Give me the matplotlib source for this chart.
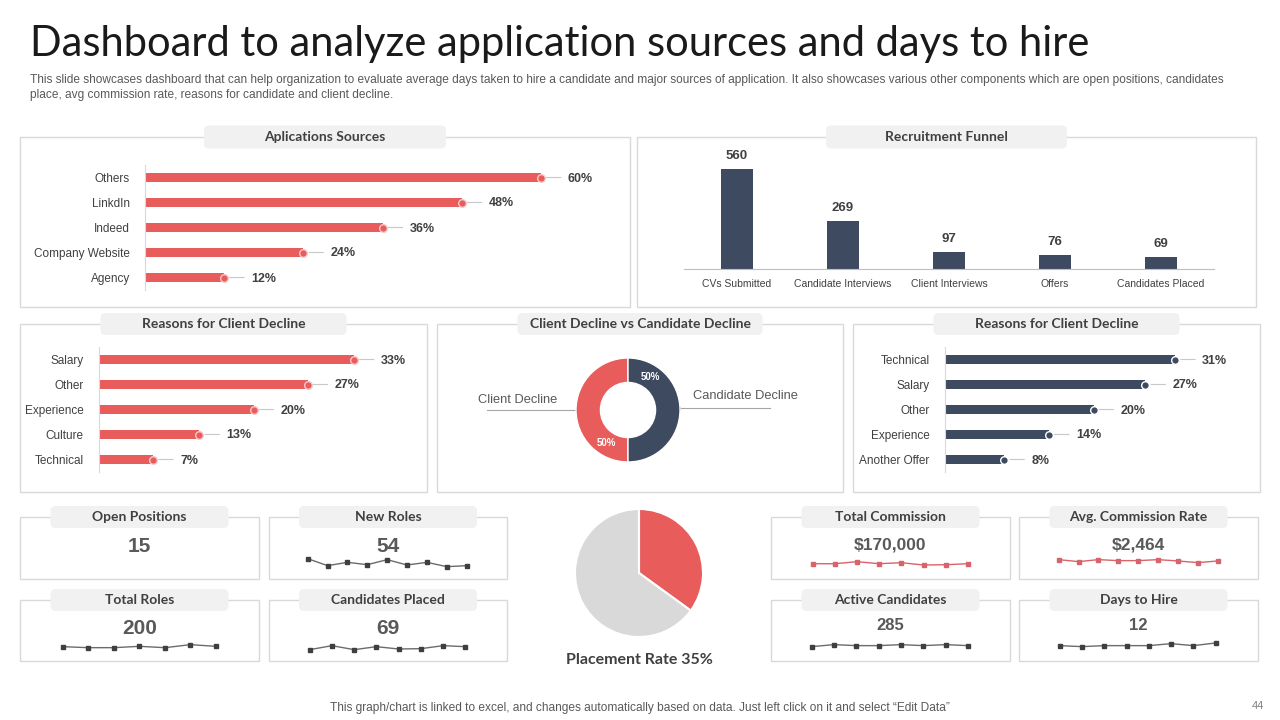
import numpy as np
import matplotlib
matplotlib.use("Agg")
import matplotlib.pyplot as plt
from matplotlib.patches import Rectangle, FancyBboxPatch

W, H = 1280, 720
RED = "#e85c5c"
NAVY = "#3d4a5f"
GREY_TXT = "#404040"
BORDER = "#d9d9d9"
PILL = "#f1f1f1"
SPARK_RED = "#d9636a"
SPARK_DARK = "#3f3f3f"

# ---- data ----
source_labels = ["Others", "LinkdIn", "Indeed", "Company Website", "Agency"]
source_values = [60, 48, 36, 24, 12]

funnel_labels = ["CVs Submitted", "Candidate Interviews", "Client Interviews", "Offers", "Candidates Placed"]
funnel_values = [560, 269, 97, 76, 69]

client_reasons = ["Salary", "Other", "Experience", "Culture", "Technical"]
client_values = [33, 27, 20, 13, 7]

cand_reasons = ["Technical", "Salary", "Other", "Experience", "Another Offer"]
cand_values = [31, 27, 20, 14, 8]

decline_labels = ["Client Decline", "Candidate Decline"]
decline_values = [50, 50]

placement_rate = 35

kpi_titles = ["Open Positions", "New Roles", "Total Roles", "Candidates Placed",
              "Total Commission", "Avg. Commission Rate", "Active Candidates", "Days to Hire"]
kpi_values = ["15", "54", "200", "69", "$170,000", "$2,464", "285", "12"]

spark_new_roles = [34, 13, 23, 16, 31, 15, 23, 10, 13]
spark_total_roles = [10, 7, 7, 11, 7, 16, 11]
spark_cand_placed = [1, 13, 1, 10, 3, 4, 13, 10]
spark_commission = [9, 9, 15, 9, 12, 5, 6, 9]
spark_comm_rate = [11, 5, 11, 8, 8, 11, 7, 2, 7]
spark_active = [5, 11, 8, 8, 11, 8, 11, 8]
spark_days = [8, 5, 8, 8, 8, 14, 8, 16]
kpi_sparks = [None, spark_new_roles, spark_total_roles, spark_cand_placed,
              spark_commission, spark_comm_rate, spark_active, spark_days]

plt.rcParams['font.family'] = ['Liberation Sans', 'DejaVu Sans']

fig = plt.figure(figsize=(12.8, 7.2), dpi=100)
fig.patch.set_facecolor("white")

bg = fig.add_axes([0, 0, 1, 1])
bg.set_xlim(0, W)
bg.set_ylim(H, 0)
bg.axis("off")


def add_ax(x0, y0, x1, y1):
    return fig.add_axes([x0 / W, 1 - y1 / H, (x1 - x0) / W, (y1 - y0) / H])


def panel(x0, y0, x1, y1, title, pill_w, pill_h=23, fs=10):
    bg.add_patch(Rectangle((x0, y0), x1 - x0, y1 - y0, fill=False, ec=BORDER, lw=1))
    cx = (x0 + x1) / 2
    bg.add_patch(FancyBboxPatch((cx - pill_w / 2, y0 - pill_h / 2), pill_w, pill_h,
                                boxstyle="round,pad=0,rounding_size=5", fc=PILL, ec="none"))
    bg.text(cx, y0, title, ha="center", va="center", fontsize=fs, fontweight="bold",
            color=GREY_TXT, family=["Lato", "DejaVu Sans"])


def hbar(rect, labels, values, color, xmax, mec):
    ax = add_ax(*rect)
    n = len(values)
    y = np.arange(n)[::-1]
    ax.barh(y, values, height=0.33, color=color)
    ax.plot(values, y, "o", ms=5.5, mfc=color, mec=mec, mew=1, zorder=3, clip_on=False)
    for v, yy in zip(values, y):
        ax.annotate("", xy=(v, yy), xytext=(20, 0), textcoords="offset pixels",
                    arrowprops=dict(arrowstyle="-", color="#c8c8c8", lw=0.8, shrinkA=0, shrinkB=4))
        ax.annotate(f"{v}%", xy=(v, yy), xytext=(27, -1), textcoords="offset pixels",
                    va="center", ha="left", fontsize=9, fontweight="bold", color=GREY_TXT)
    ax.set_xlim(0, xmax)
    ax.set_ylim(-0.5, n - 0.5)
    ax.set_yticks(y, labels)
    ax.set_xticks([])
    ax.tick_params(axis="y", length=0, pad=11, labelsize=8.5, labelcolor=GREY_TXT)
    for s in ["top", "right", "bottom"]:
        ax.spines[s].set_visible(False)
    ax.spines["left"].set_color(BORDER)
    ax.patch.set_alpha(0)
    return ax


# ---- title ----
bg.text(30, 44, "Dashboard to analyze application sources and days to hire", fontsize=30,
        va="center", ha="left", color="#1a1a1a", family=["Lato", "DejaVu Sans"])
bg.text(30, 80, "This slide showcases dashboard that can help organization to evaluate average days taken to hire a candidate and major sources of application. It also showcases various other components which are open positions, candidates",
        fontsize=8.6, va="center", ha="left", color="#595959")
bg.text(30, 95, "place, avg commission rate, reasons for candidate and client decline.",
        fontsize=8.6, va="center", ha="left", color="#595959")

# ---- top row ----
panel(20, 137, 630, 307, "Aplications Sources", 242)
hbar((145, 165, 607, 290), source_labels, source_values, RED, 70, "#f6caca")

panel(637, 137, 1256, 307, "Recruitment Funnel", 241)
axf = add_ax(684, 150, 1214, 269)
xf = np.arange(len(funnel_values))
axf.bar(xf, funnel_values, width=0.31, color=NAVY)
for xx, v in zip(xf, funnel_values):
    axf.annotate(str(v), xy=(xx, v), xytext=(0, 7), textcoords="offset pixels",
                 ha="center", va="bottom", fontsize=9.5, fontweight="bold", color=GREY_TXT)
axf.set_xlim(-0.5, len(funnel_values) - 0.5)
axf.set_ylim(0, 666)
axf.set_xticks(xf, funnel_labels)
axf.set_yticks([])
axf.tick_params(axis="x", length=0, pad=7, labelsize=7.5, labelcolor=GREY_TXT)
for s in ["top", "right", "left"]:
    axf.spines[s].set_visible(False)
axf.spines["bottom"].set_color("#bfbfbf")
axf.patch.set_alpha(0)

# ---- middle row ----
panel(20, 324, 427, 492, "Reasons for Client Decline", 246, 22)
hbar((99, 347, 408, 472), client_reasons, client_values, RED, 40, "#f6caca")

panel(437, 324, 843, 492, "Client Decline vs Candidate Decline", 245, 22)
axd = add_ax(576, 358, 680, 462)
wedges, _ = axd.pie(decline_values, colors=[RED, NAVY], startangle=90, counterclock=True,
                    radius=1, wedgeprops=dict(width=0.47, edgecolor="white", lw=1))
for w, v in zip(wedges, decline_values):
    ang = np.deg2rad(w.theta2 - 34)
    axd.text(0.76 * np.cos(ang), 0.76 * np.sin(ang), f"{v}%", ha="center", va="center",
             fontsize=7, fontweight="bold", color="white")
axd.set_xlim(-1, 1)
axd.set_ylim(-1, 1)

# callouts
bg.plot([487, 580], [410, 410], color="#a6a6a6", lw=0.8)
bg.plot(580, 410, "o", ms=4, mfc="white", mec="#7f7f7f", mew=0.8)
bg.text(518, 400, decline_labels[0], ha="center", va="center", fontsize=9.3, color="#595959")
bg.plot([677, 770], [408, 408], color="#a6a6a6", lw=0.8)
bg.plot(677, 408, "o", ms=4, mfc="white", mec="#7f7f7f", mew=0.8)
bg.text(745, 396, decline_labels[1], ha="center", va="center", fontsize=9.3, color="#595959")

panel(853, 324, 1260, 492, "Reasons for Client Decline", 246, 22)
hbar((945, 347, 1242, 472), cand_reasons, cand_values, NAVY, 40, "white")

# ---- KPI boxes ----
kpi_boxes = [(20, 517, 259, 579), (269, 517, 507, 579), (20, 600, 259, 661), (269, 600, 507, 661),
             (771, 517, 1010, 579), (1019, 517, 1258, 579), (771, 600, 1010, 661), (1019, 600, 1258, 661)]
kpi_val_y = [547, 547, 628, 628, 545, 545, 626, 626]
kpi_val_fs = [15, 15, 15, 15, 12.5, 12.5, 12, 12]
spark_pos = [None, (307.7, 466.7, 570), (62.7, 216, 650), (309.7, 465.3, 650),
             (812.7, 968, 566.7), (1058.7, 1217.7, 563.3), (811.7, 968, 648.3), (1059.7, 1215.7, 648.3)]
spark_red = [False, False, False, False, True, True, False, False]

for i, (x0, y0, x1, y1) in enumerate(kpi_boxes):
    panel(x0, y0, x1, y1, kpi_titles[i], 178, 22, 10)
    bg.text((x0 + x1) / 2, kpi_val_y[i], kpi_values[i], ha="center", va="center",
            fontsize=kpi_val_fs[i], fontweight="bold", color="#595959")
    if kpi_sparks[i] is None:
        continue
    sx0, sx1, base = spark_pos[i]
    axs = add_ax(sx0, base - 20, sx1, base)
    d = kpi_sparks[i]
    lc = SPARK_RED if spark_red[i] else "#6b6b6b"
    mc = SPARK_RED if spark_red[i] else SPARK_DARK
    axs.plot(np.arange(len(d)), d, color=lc, lw=1, marker="s", ms=3.2, mfc=mc, mec=mc,
             clip_on=False)
    axs.set_xlim(0, len(d) - 1)
    axs.set_ylim(0, 60)
    axs.axis("off")

# ---- placement pie ----
axp = add_ax(575, 509, 703, 637)
axp.pie([placement_rate, 100 - placement_rate], colors=[RED, "#d9d9d9"], startangle=90,
        counterclock=False, radius=1, wedgeprops=dict(edgecolor="white", lw=1.5))
axp.set_xlim(-1, 1)
axp.set_ylim(-1, 1)
bg.text(639, 660, f"Placement Rate {placement_rate}%", ha="center", va="center", fontsize=11.5,
        fontweight="bold", color=GREY_TXT, family=["Lato", "DejaVu Sans"])

# ---- footer ----
bg.text(640, 708, "This graph/chart is linked to excel, and changes automatically based on data. Just left click on it and select \u201cEdit Data\u201d",
        ha="center", va="center", fontsize=8.6, color="#595959")
bg.text(1258, 706, "44", ha="center", va="center", fontsize=8, color="#7f7f7f")

fig.savefig("out.png", dpi=100)
